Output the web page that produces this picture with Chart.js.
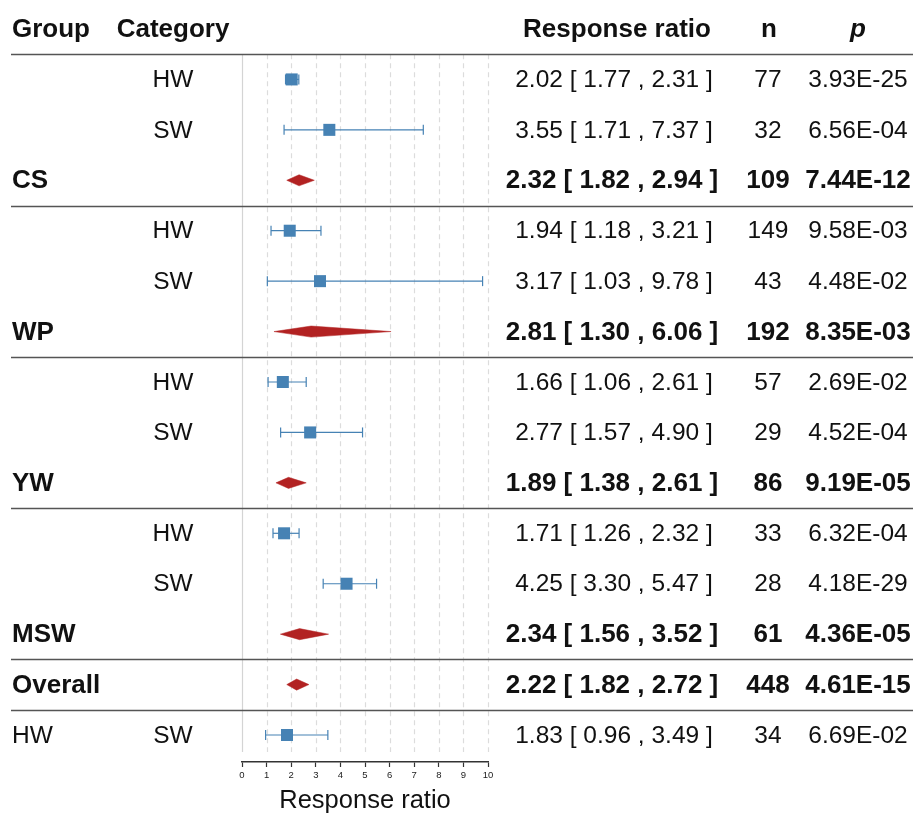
<!DOCTYPE html>
<html>
<head>
<meta charset="utf-8">
<script src="https://cdn.jsdelivr.net/npm/chart.js@4/dist/chart.umd.min.js"></script>
<style>
  body { margin: 0; background: #fff; }
  #wrap { width: 915px; height: 814px; }
</style>
</head>
<body>
<div id="wrap"><canvas id="chart" width="915" height="814"></canvas></div>
<script>
// rows top to bottom, row 0 is the header
const groups     = ['', '', 'CS', '', '', 'WP', '', '', 'YW', '', '', 'MSW', 'Overall', 'HW'];
const categories = ['HW', 'SW', '', 'HW', 'SW', '', 'HW', 'SW', '', 'HW', 'SW', '', '', 'SW'];
const estimates  = [2.02, 3.55, 2.32, 1.94, 3.17, 2.81, 1.66, 2.77, 1.89, 1.71, 4.25, 2.34, 2.22, 1.83];
const lowers     = [1.77, 1.71, 1.82, 1.18, 1.03, 1.30, 1.06, 1.57, 1.38, 1.26, 3.30, 1.56, 1.82, 0.96];
const uppers     = [2.31, 7.37, 2.94, 3.21, 9.78, 6.06, 2.61, 4.90, 2.61, 2.32, 5.47, 3.52, 2.72, 3.49];
const nValues    = [77, 32, 109, 149, 43, 192, 57, 29, 86, 33, 28, 61, 448, 34];
const pValues    = ['3.93E-25', '6.56E-04', '7.44E-12', '9.58E-03', '4.48E-02', '8.35E-03', '2.69E-02',
                    '4.52E-04', '9.19E-05', '6.32E-04', '4.18E-29', '4.36E-05', '4.61E-15', '6.69E-02'];
const summary    = [false, false, true, false, false, true, false, false, true, false, false, true, true, false];
const headers    = ['Group', 'Category', 'Response ratio', 'n', 'p'];
const xTicks     = [0, 1, 2, 3, 4, 5, 6, 7, 8, 9, 10];
const ruleAfter  = [0, 3, 6, 9, 12, 13];

const FONT = '"Liberation Sans", Arial, sans-serif';
const BLUE = '#4682b4';
const RED = '#b22222';
const DIAMOND_H = 0.11;

let datasets = [];
estimates.forEach((est, i) => {
    let row = i + 1;
    if (summary[i]) {
        datasets.push({
            data: [
                {x: lowers[i], y: row},
                {x: est, y: row - DIAMOND_H},
                {x: uppers[i], y: row},
                {x: est, y: row + DIAMOND_H},
                {x: lowers[i], y: row}
            ],
            showLine: true,
            fill: 'shape',
            backgroundColor: RED,
            borderColor: RED,
            borderWidth: 0.5,
            pointRadius: 0,
            order: 0
        });
    } else {
        datasets.push({
            data: [{x: lowers[i], y: row}, {x: uppers[i], y: row}],
            showLine: true,
            borderColor: BLUE,
            borderWidth: 1.2,
            pointStyle: 'line',
            rotation: 90,
            pointRadius: 5,
            pointBorderColor: BLUE,
            pointBorderWidth: 1.2,
            order: 2
        });
        datasets.push({
            data: [{x: est, y: row}],
            pointStyle: 'rect',
            pointRadius: 8.5,
            backgroundColor: BLUE,
            borderColor: BLUE,
            borderWidth: 0,
            order: 1
        });
    }
});

const tablePlugin = {
    id: 'table',
    beforeDatasetsDraw(chart) {
        const ctx = chart.ctx;
        const xs = chart.scales.x, ys = chart.scales.y;
        ctx.save();
        xTicks.forEach(t => {
            let px = Math.round(xs.getPixelForValue(t)) + 0.5;
            ctx.beginPath();
            ctx.strokeStyle = t === 0 ? '#d4d4d4' : '#dcdcdc';
            ctx.lineWidth = 1.2;
            ctx.setLineDash(t === 0 ? [] : [5, 4]);
            ctx.moveTo(px, ys.getPixelForValue(0.5));
            ctx.lineTo(px, 752);
            ctx.stroke();
        });
        ctx.restore();
    },
    afterDraw(chart) {
        const ctx = chart.ctx;
        const ys = chart.scales.y;
        ctx.save();
        ctx.strokeStyle = '#555';
        ctx.lineWidth = 1.3;
        ruleAfter.forEach(r => {
            let py = Math.round(ys.getPixelForValue(r + 0.5)) + 0.5;
            ctx.beginPath();
            ctx.moveTo(11, py);
            ctx.lineTo(913, py);
            ctx.stroke();
        });

        ctx.fillStyle = '#111';
        ctx.textBaseline = 'middle';
        let y0 = ys.getPixelForValue(0) + 1;
        ctx.font = 'bold 26px ' + FONT;
        ctx.textAlign = 'left';
        ctx.fillText(headers[0], 12, y0);
        ctx.textAlign = 'center';
        ctx.fillText(headers[1], 173, y0);
        ctx.fillText(headers[2], 617, y0);
        ctx.fillText(headers[3], 769, y0);
        ctx.font = 'italic bold 26px ' + FONT;
        ctx.fillText(headers[4], 858, y0);

        estimates.forEach((est, i) => {
            let py = ys.getPixelForValue(i + 1) + 1;
            let bold = summary[i];
            ctx.font = bold ? 'bold 26px ' + FONT : '24.5px ' + FONT;
            ctx.textAlign = 'left';
            ctx.fillText(groups[i], 12, py);
            ctx.textAlign = 'center';
            ctx.fillText(categories[i], 173, py);
            let txt = est.toFixed(2) + ' [ ' + lowers[i].toFixed(2) + ' , ' + uppers[i].toFixed(2) + ' ]';
            ctx.fillText(txt, bold ? 612 : 614, py);
            ctx.fillText(String(nValues[i]), 768, py);
            ctx.fillText(pValues[i], 858, py);
        });
        ctx.restore();
    }
};

new Chart(document.getElementById('chart'), {
    type: 'scatter',
    data: { datasets: datasets },
    options: {
        responsive: false,
        animation: false,
        events: [],
        layout: { padding: { left: 242, right: 427, top: 53, bottom: 0 } },
        plugins: { legend: { display: false }, tooltip: { enabled: false } },
        scales: {
            x: {
                min: 0,
                max: 10,
                afterFit: s => { s.height = 52; },
                afterBuildTicks: s => { s.ticks = xTicks.map(v => ({value: v})); },
                ticks: { font: { family: FONT, size: 9.5 }, color: '#222', padding: 3, maxRotation: 0 },
                grid: { drawOnChartArea: false, drawTicks: true, tickLength: 5, tickColor: '#333', tickWidth: 1.2 },
                border: { display: true, color: '#333', width: 1.5 },
                title: { display: true, text: 'Response ratio', font: { family: FONT, size: 25.5, lineHeight: 1 }, color: '#111', padding: 0 }
            },
            y: {
                display: false,
                reverse: true,
                min: 0.476,
                max: 14.535
            }
        }
    },
    plugins: [tablePlugin]
});
</script>
</body>
</html>
